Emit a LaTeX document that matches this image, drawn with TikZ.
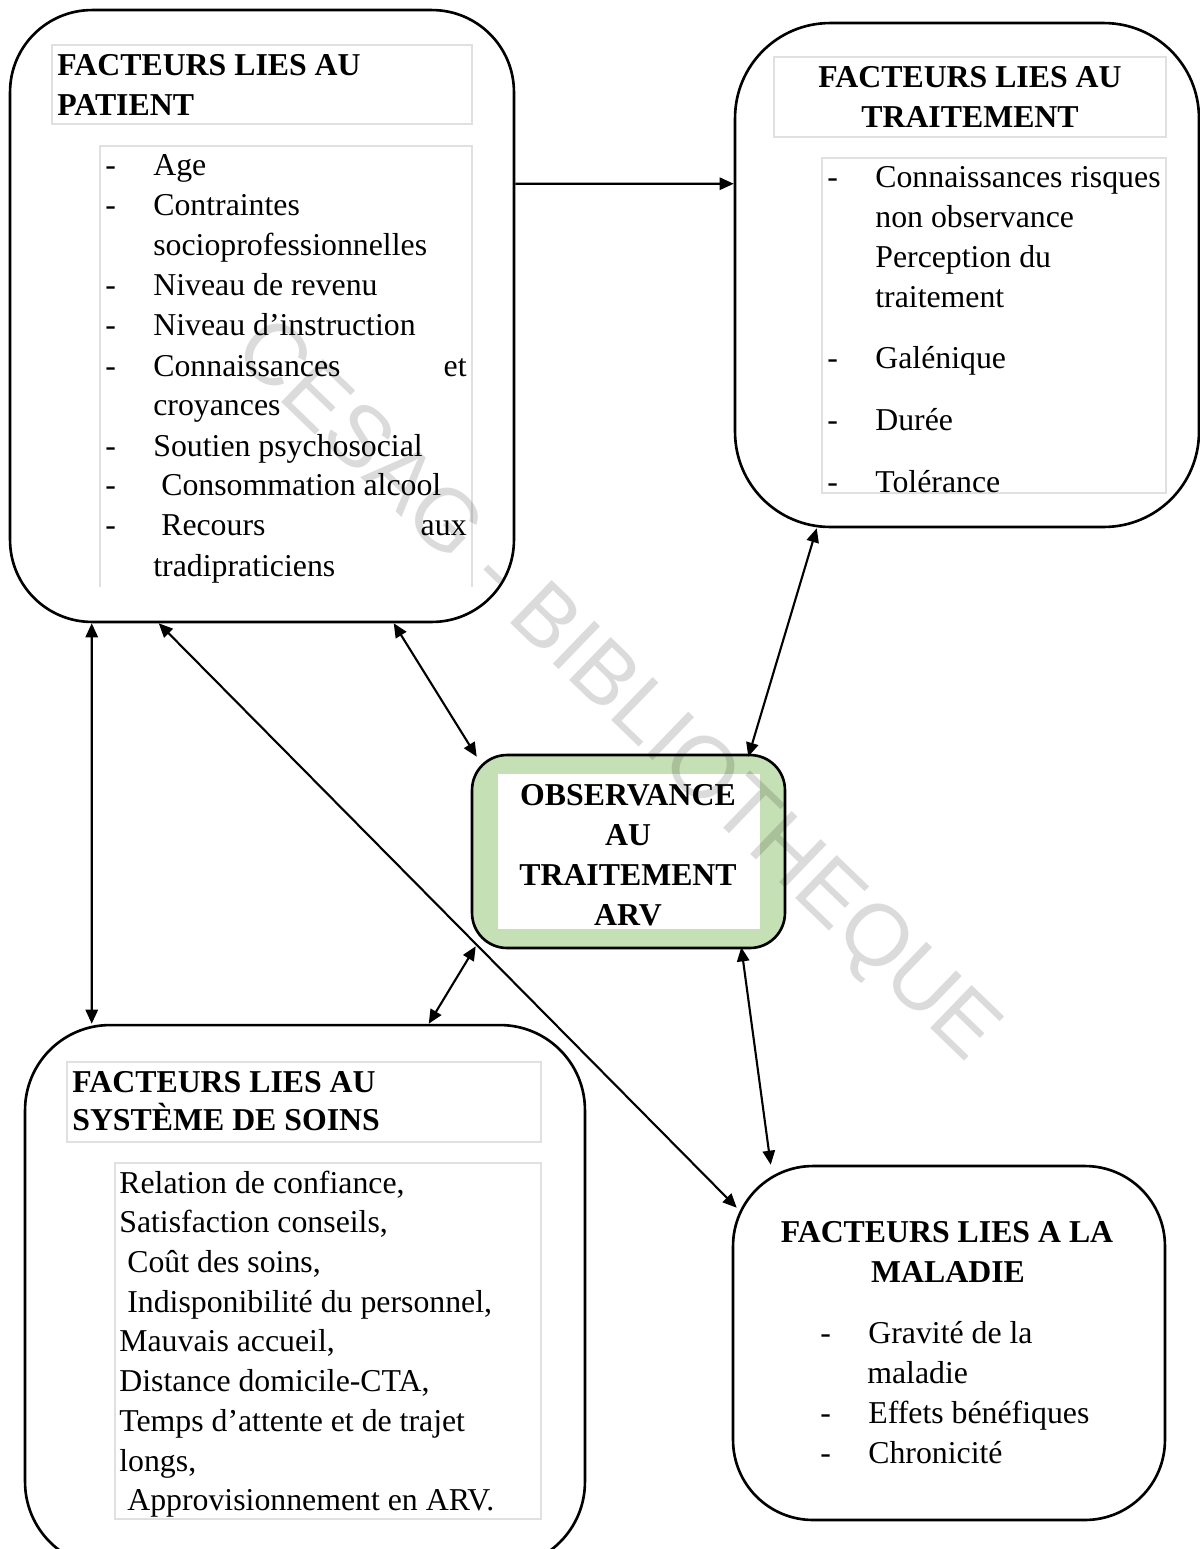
\documentclass[tikz,border=0pt]{standalone}
\usepackage{fontspec}
\setmainfont{Liberation Serif}
\newfontfamily\filigrane{Liberation Sans}
\usetikzlibrary{arrows.meta, calc}
\definecolor{vertobs}{RGB}{197,224,180}
\newcommand{\corps}{\fontsize{18.1}{22.8}\selectfont}
\newcommand{\tiret}{\makebox[0.96cm][l]{-}}

\begin{document}
\begin{tikzpicture}[x=0.02cm, y=-0.02cm, >={Triangle[length=8pt,width=7pt]},
    bloc/.style={draw, line width=1.5pt, rounded corners=#1, inner sep=0pt},
    cadre/.style={draw=black!12, line width=0.8pt},
    titre/.style={font=\corps\bfseries, inner sep=0pt, anchor=base west},
    titrec/.style={font=\corps\bfseries, inner sep=0pt, anchor=base},
    ligne/.style={font=\corps, inner sep=0pt, anchor=base west},
    ligned/.style={font=\corps, inner sep=0pt, anchor=base east},
    lien/.style={line width=1.2pt}]
    \useasboundingbox (0,0) rectangle (1200,1549);

    % Facteurs lies au patient
    \node[bloc=1.64cm, minimum width=10.08cm, minimum height=12.24cm] (pat) at (262,316) {};
    \draw[cadre] (52,45) rectangle (472,124);
    \draw[cadre] (100,587) -- (100,146) -- (472,146) -- (472,587);
    \node[titre] (patT1) at (57,75) {FACTEURS LIES AU};
    \node[titre] (patT2) at (57,115) {PATIENT};
    \node[ligne] (pa1) at (105,175) {\tiret Age};
    \node[ligne] (pa2) at (105,215) {\tiret Contraintes};
    \node[ligne] (pa3) at (153,255) {socioprofessionnelles};
    \node[ligne] (pa4) at (105,295) {\tiret Niveau de revenu};
    \node[ligne] (pa5) at (105,335) {\tiret Niveau d’instruction};
    \node[ligne] (pa6) at (105,376) {\tiret Connaissances};
    \node[ligned] (pa6b) at (467,376) {et};
    \node[ligne] (pa7) at (153,415) {croyances};
    \node[ligne] (pa8) at (105,456) {\tiret Soutien psychosocial};
    \node[ligne] (pa9) at (105,495) {\tiret\ Consommation alcool};
    \node[ligne] (pa10) at (105,535) {\tiret\ Recours};
    \node[ligned] (pa10b) at (467,535) {aux};
    \node[ligne] (pa11) at (153,576) {tradipraticiens};

    % Facteurs lies au traitement
    \node[bloc=1.9cm, minimum width=9.28cm, minimum height=10.08cm] (trt) at (967,275) {};
    \draw[cadre] (774,57) rectangle (1166,137);
    \draw[cadre] (822,158) rectangle (1166,493);
    \node[titrec] (trtT1) at (970,87) {FACTEURS LIES AU};
    \node[titrec] (trtT2) at (970,127) {TRAITEMENT};
    \node[ligne] (tr1) at (827,187) {\tiret Connaissances risques};
    \node[ligne] (tr2) at (875,227) {non observance};
    \node[ligne] (tr3) at (875,267) {Perception du};
    \node[ligne] (tr4) at (875,307) {traitement};
    \node[ligne] (tr5) at (827,368) {\tiret Galénique};
    \node[ligne] (tr6) at (827,430) {\tiret Durée};
    \node[ligne] (tr7) at (827,492) {\tiret Tolérance};

    % Observance (centre)
    \node[bloc=0.7cm, fill=vertobs, minimum width=6.26cm, minimum height=3.86cm] (obs) at (628.5,851.5) {};
    \fill[white] (498,774) rectangle (760,929);
    \node[titrec] (obs1) at (628,805) {OBSERVANCE};
    \node[titrec] (obs2) at (628,845) {AU};
    \node[titrec] (obs3) at (628,885) {TRAITEMENT};
    \node[titrec] (obs4) at (628,925) {ARV};

    % Facteurs lies au systeme de soins
    \node[bloc=1.7cm, minimum width=11.2cm, minimum height=10.84cm] (soin) at (305,1296) {};
    \draw[cadre] (67,1062) rectangle (541,1142);
    \draw[cadre] (115,1163) rectangle (541,1519);
    \node[titre] (soinT1) at (72,1092) {FACTEURS LIES AU};
    \node[titre] (soinT2) at (72,1130) {SYSTÈME DE SOINS};
    \node[ligne] (so1) at (119,1193) {Relation de confiance,};
    \node[ligne] (so2) at (119,1232) {Satisfaction conseils,};
    \node[ligne] (so3) at (119,1272) {\ Coût des soins,};
    \node[ligne] (so4) at (119,1312) {\ Indisponibilité du personnel,};
    \node[ligne] (so5) at (119,1351) {Mauvais accueil,};
    \node[ligne] (so6) at (119,1391) {Distance domicile-CTA,};
    \node[ligne] (so7) at (119,1431) {Temps d’attente et de trajet};
    \node[ligne] (so8) at (119,1471) {longs,};
    \node[ligne] (so9) at (119,1510) {\ Approvisionnement en ARV.};

    % Facteurs lies a la maladie
    \node[bloc=1.6cm, minimum width=8.64cm, minimum height=7.08cm] (mal) at (949,1343) {};
    \node[titrec] (malT1) at (947,1242) {FACTEURS LIES A LA};
    \node[titrec] (malT2) at (948,1282) {MALADIE};
    \node[ligne] (ma1) at (820,1343) {\tiret Gravité de la};
    \node[ligne] (ma2) at (867,1383) {maladie};
    \node[ligne] (ma3) at (820,1423) {\tiret Effets bénéfiques};
    \node[ligne] (ma4) at (820,1463) {\tiret Chronicité};

    % Liens
    \draw[lien, ->] ($(pat.north east)+(0,175)$) -- ($(trt.north west)+(0,162)$);
    \draw[lien, <->] ($(pat.south west)+(83,0)$) -- ($(soin.north west)+(68,0)$);
    \draw[lien, <->] ($(pat.south west)+(150,0)$) -- ($(mal.north west)+(5,43)$);
    \draw[lien, <->] ($(pat.south west)+(385,0)$) -- ($(obs.north west)+(6,3)$);
    \draw[lien, <->] ($(trt.south west)+(83,0)$) -- ($(obs.north east)+(-38,3)$);
    \draw[lien, <->] ($(obs.south west)+(5,-3)$) -- ($(soin.north west)+(405,0)$);
    \draw[lien, <->] ($(obs.south east)+(-45,-2)$) -- ($(mal.north west)+(39,0)$);

    % Filigrane
    \node[font=\filigrane\fontsize{49.4}{50}\selectfont, text opacity=0.14, rotate=-44, inner sep=0pt] (cesag) at (615,693) {CESAG - BIBLIOTHEQUE};
\end{tikzpicture}
\end{document}
